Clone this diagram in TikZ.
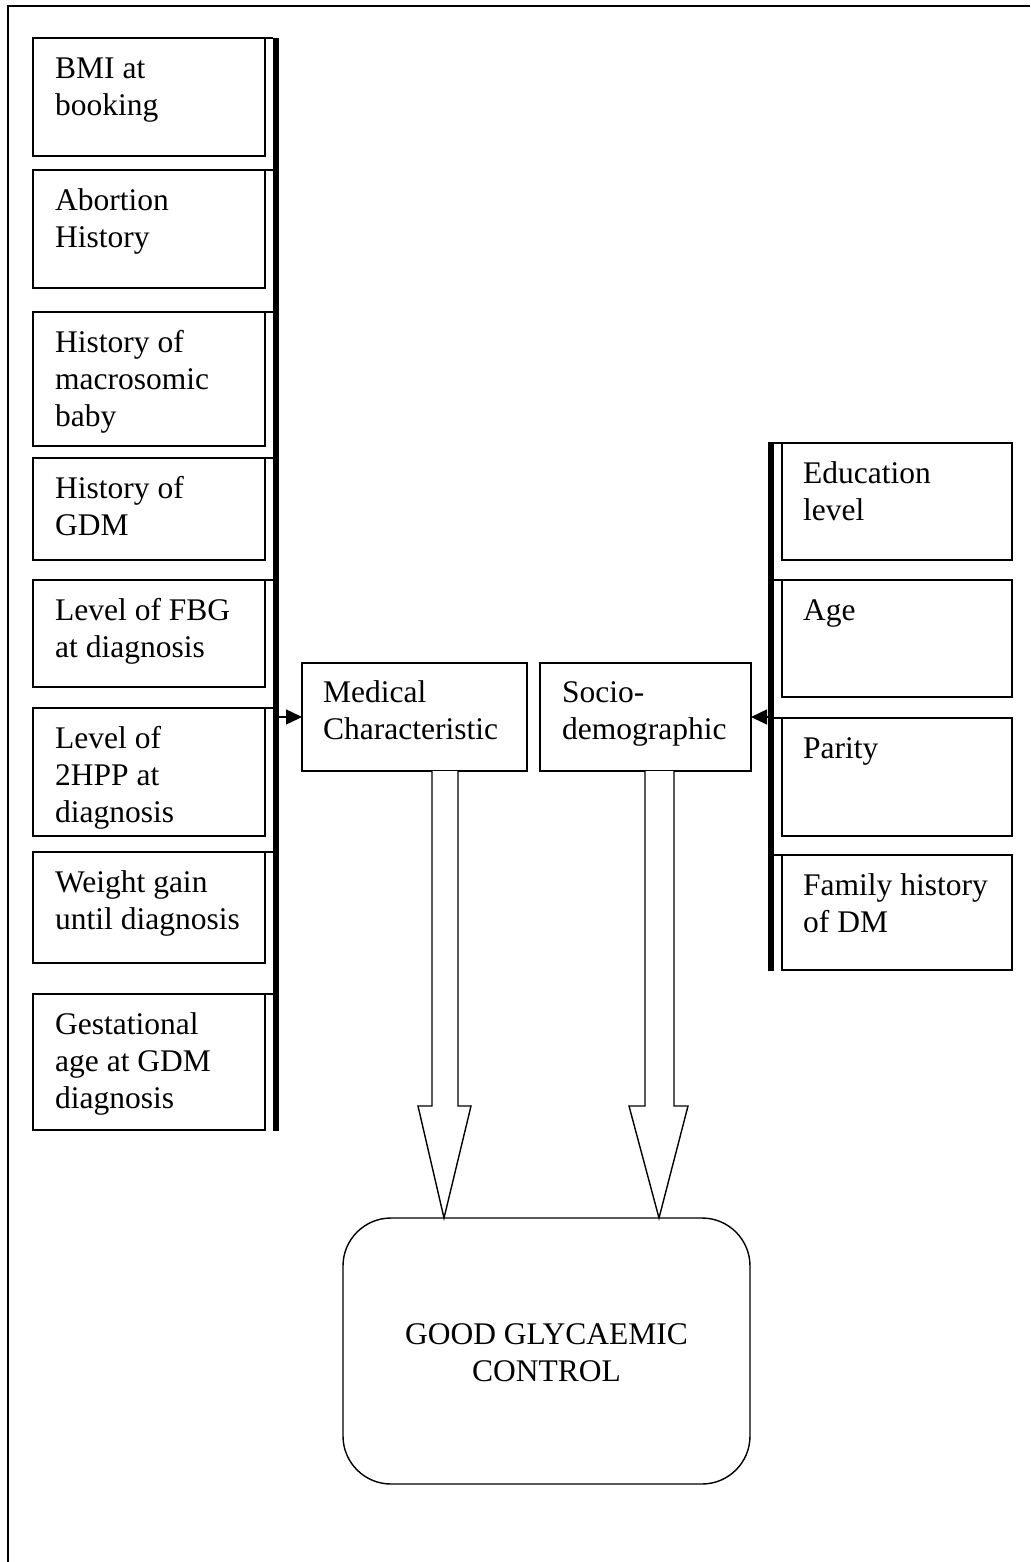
\documentclass[tikz,border=0pt]{standalone}
\usepackage{fontspec}
\setmainfont{Liberation Serif}
\usetikzlibrary{arrows.meta,calc}
\begin{document}
\begin{tikzpicture}[x=1pt,y=-1pt,
  box/.style={draw, line width=1.4pt, inner sep=0pt, outer sep=0pt, anchor=north west},
  txt/.style={anchor=north west, inner sep=0pt, align=left, font=\fontsize{31.5}{37}\selectfont},
  ctxt/.style={inner sep=0pt, align=center, font=\fontsize{31.5}{37}\selectfont},
  bar/.style={fill=black, draw=none, inner sep=0pt, outer sep=0pt, minimum width=6pt},
  edge/.style={line width=1.4pt},
  arr/.style={line width=1.4pt, -{Triangle[length=16pt,width=15pt]}},
  blockarrow/.style={draw, line width=1.4pt, fill=white, line join=miter}
]
\useasboundingbox (0,0) rectangle (1030,1562);
% outer frame (only left and top edges visible)
\draw[line width=2pt] (8,1562) -- (8,6) -- (1030,6);

% bars
\node[bar, minimum height=1093pt] (lbar) at (276,584.5) {};
\node[bar, minimum height=529pt] (rbar) at (771,706.5) {};

% left boxes
\foreach \n/\t/\b/\s in {
  l1/38/156/{BMI at\\booking},
  l2/170/288/{Abortion\\History},
  l3/312/446/{History of\\macrosomic\\baby},
  l4/458/560/{History of\\GDM},
  l5/580/687/{Level of FBG\\at diagnosis},
  l6/708/836/{Level of\\2HPP at\\diagnosis},
  l7/852/963/{Weight gain\\until diagnosis},
  l8/994/1130/{Gestational\\age at GDM\\diagnosis}}{
  \node[box, minimum width=232pt, minimum height={(\b-\t)*1pt}] (\n) at (33,\t) {};
  \draw[edge] (\n.north east) -- (lbar.west |- \n.north east);
  \node[txt] at ($(\n.north west)+(22,14)$) {\strut\s};
}

% right boxes
\foreach \n/\t/\b/\s in {
  r1/443/560/{Education\\level},
  r2/580/697/{Age},
  r3/718/836/{Parity},
  r4/855/970/{Family history\\of DM}}{
  \node[box, minimum width=230pt, minimum height={(\b-\t)*1pt}] (\n) at (782,\t) {};
  \draw[edge] (\n.north west) -- (rbar.east |- \n.north west);
  \node[txt] at ($(\n.north west)+(21,14)$) {\strut\s};
}

% middle boxes
\node[box, minimum width=225pt, minimum height=108pt] (med) at (302,663) {};
\node[txt] at ($(med.north west)+(21,13)$) {\strut Medical\\Characteristic};
\node[box, minimum width=211pt, minimum height=108pt] (soc) at (540,663) {};
\node[txt] at ($(soc.north west)+(22,13)$) {\strut Socio-\\demographic};

% goal
\node[draw, line width=1.4pt, rounded corners=48pt, minimum width=407pt, minimum height=266pt,
      inner sep=0pt, outer sep=0pt, anchor=north west] (goal) at (343,1218) {};
\node[ctxt] at ($(goal.center)+(0,2)$) {GOOD GLYCAEMIC\\CONTROL};

% small arrows
\draw[arr] (lbar.east |- med.west) -- (med.west);
\draw[arr] (rbar.west |- soc.east) -- (soc.east);

% block arrows
\draw[blockarrow] (432,771) -- (432,1106) -- (418,1106) -- (444,1218) -- (471,1106) -- (458,1106) -- (458,771);
\draw[blockarrow] (645,771) -- (645,1106) -- (629,1106) -- (659,1218) -- (688,1106) -- (674,1106) -- (674,771);
\end{tikzpicture}
\end{document}
